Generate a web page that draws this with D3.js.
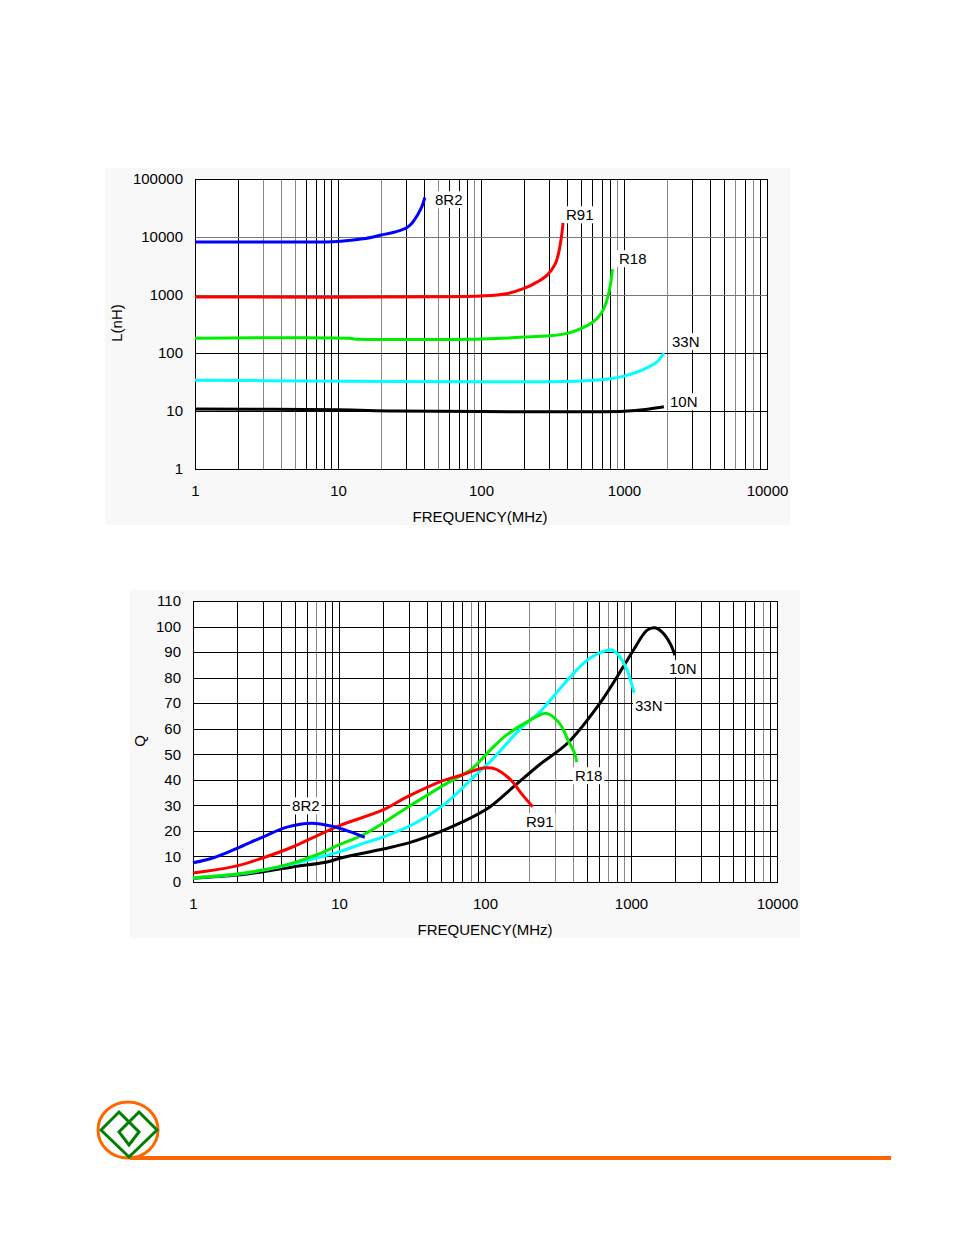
<!DOCTYPE html>
<meta charset="utf-8">
<style>
body { margin: 0; background: #fff; }
svg { display: block; font-family: "Liberation Sans", Arial, sans-serif; }
.tick text { font-size: 15px; fill: #000; }
.lbl { font-size: 15px; fill: #000; }
</style>
<svg width="954" height="1235"></svg>
<script src="https://d3js.org/d3.v7.min.js"></script>
<script>

// ---- data: inductance L(nH) vs frequency (MHz) ----
var freqTicks = [1, 10, 100, 1000, 10000];
var lTicks = [1, 10, 100, 1000, 10000, 100000];
var qTicks = [0, 10, 20, 30, 40, 50, 60, 70, 80, 90, 100, 110];

var L_8R2 = [[1, 8200], [5, 8200], [10, 8400], [15, 9300], [20, 10800], [25, 12200], [30, 14300], [33, 17500], [36, 24000], [38.5, 33000], [40.5, 48000]];
var L_R91 = [[1, 920], [50, 930], [100, 960], [150, 1050], [200, 1300], [250, 1700], [290, 2200], [330, 3400], [350, 5500], [365, 10000], [375, 17500]];
var L_R18 = [[1, 180], [12, 180], [13, 175], [100, 175], [200, 188], [400, 218], [600, 335], [700, 500], [770, 920], [810, 1700], [830, 2800]];
var L_33N = [[1, 34], [6, 33], [100, 32], [500, 33], [800, 36], [1000, 40], [1350, 51], [1700, 70], [1900, 100]];
var L_10N = [[1, 10.8], [10, 10.5], [25, 10], [100, 9.8], [1000, 9.9], [1500, 10.8], [1900, 11.8]];

// ---- data: Q vs frequency (MHz) ----
var Q_8R2 = [[1, 7.5], [1.4, 9.6], [2, 13.2], [3, 17.6], [4.4, 21.5], [6.5, 23], [9, 21.8], [12, 19.6], [15, 17.5]];
var Q_R91 = [[1, 3.5], [2, 6.3], [3, 9.4], [4.8, 13.7], [7, 18], [10, 22], [20, 28.2], [29, 33.2], [50, 39.4], [70, 42], [97, 44.6], [117, 44.3], [150, 40], [180, 34.2], [212, 29.5]];
var Q_R18 = [[1, 1.6], [2, 3.1], [3, 4.7], [4.8, 7.4], [7, 10.6], [10, 14.5], [15, 18.8], [29, 29], [55, 38.7], [82, 44.5], [108, 51.5], [140, 57.5], [193, 62.6], [265, 66], [325, 62], [370, 55.6], [410, 50.5], [425, 47]];
var Q_33N = [[1, 1.6], [2, 3], [3, 4.6], [4.8, 7], [7, 9.4], [10, 11.8], [15, 15.3], [20, 17.6], [32, 22.5], [50, 29.4], [65, 35], [82, 40.7], [108, 47], [180, 60.7], [237, 66.5], [380, 80], [525, 87.7], [740, 90.8], [840, 88], [940, 83], [1050, 74]];
var Q_10N = [[1, 1.5], [2, 2.7], [3, 4], [4.8, 5.9], [8.3, 7.8], [10, 9.2], [20, 12.9], [30, 15.3], [49, 19.6], [70, 23.5], [108, 29.4], [155, 37], [237, 46], [370, 54.5], [613, 70], [880, 84], [1040, 90.8], [1290, 98.6], [1460, 99.5], [1620, 98], [1850, 93.5], [2000, 88.8]];

var names = ["8R2", "R91", "R18", "33N", "10N"];
var colors = ["#0000ff", "#ff0000", "#00ee00", "#00ffff", "#000000"];

// label anchors (freq, value) for the curve names
var lLabelAt = [[47.7, 43400], [393, 23900], [922, 4180], [2167, 155], [2098, 14.3]];
var qLabelAt = [[4.77, 29.7], [191, 23.5], [413, 41.5], [1065, 68.9], [1820, 83.4]];

// some thin grid lines came out gray in the scan
var lGrayX = [3, 4, 5, 20, 50, 90, 900, 2000, 6000, 8000];
var lGrayY = [1000, 10000];
var qGrayX = [7, 80, 200, 300, 400, 700, 900, 8000];

var svg = d3.select("svg");

function minorFreqs() {
  var out = [];
  [1, 10, 100, 1000].forEach(function(d) {
    for (var k = 1; k <= 10; k++) out.push(d * k);
  });
  return out;
}

function drawChart(opt) {
  var x = d3.scaleLog().domain([1, 10000]).range(opt.xr);
  var y = opt.y;
  var g = svg.append("g");

  g.append("rect")
      .attr("x", opt.panel[0]).attr("y", opt.panel[1])
      .attr("width", opt.panel[2]).attr("height", opt.panel[3])
      .attr("fill", "#f8f8f8");
  g.append("rect")
      .attr("x", opt.xr[0]).attr("y", opt.yr[1])
      .attr("width", opt.xr[1] - opt.xr[0]).attr("height", opt.yr[0] - opt.yr[1])
      .attr("fill", "#fff");

  // vertical grid
  g.append("g").selectAll("line")
    .data(minorFreqs().filter(function(f) { return f > 1 && f < 10000; }))
    .enter().append("line")
      .attr("x1", function(d) { return Math.round(x(d)) + 0.5; })
      .attr("x2", function(d) { return Math.round(x(d)) + 0.5; })
      .attr("y1", opt.yr[0]).attr("y2", opt.yr[1])
      .attr("stroke", function(d) { return opt.grayX.indexOf(d) >= 0 ? "#888" : "#000"; })
      .attr("stroke-width", 1);

  // horizontal grid
  g.append("g").selectAll("line")
    .data(opt.yTicks.slice(1, -1))
    .enter().append("line")
      .attr("x1", opt.xr[0]).attr("x2", opt.xr[1])
      .attr("y1", function(d) { return Math.round(y(d)) + 0.5; })
      .attr("y2", function(d) { return Math.round(y(d)) + 0.5; })
      .attr("stroke", function(d) { return opt.grayY.indexOf(d) >= 0 ? "#777" : "#000"; })
      .attr("stroke-width", 1);

  g.append("rect")
      .attr("x", opt.xr[0] + 0.5).attr("y", opt.yr[1] + 0.5)
      .attr("width", opt.xr[1] - opt.xr[0]).attr("height", opt.yr[0] - opt.yr[1])
      .attr("fill", "none").attr("stroke", "#000").attr("stroke-width", 1);

  // axes (labels only)
  var xa = g.append("g")
      .attr("transform", "translate(0," + (opt.yr[0] + 13) + ")")
      .call(d3.axisBottom(x).tickValues(freqTicks).tickFormat(d3.format("d")).tickSize(0));
  xa.select(".domain").remove();
  xa.selectAll("text").attr("font-family", null).attr("font-size", null);

  var ya = g.append("g")
      .attr("transform", "translate(" + (opt.xr[0] - 9) + ",0)")
      .call(d3.axisLeft(y).tickValues(opt.yTicks).tickFormat(d3.format("d")).tickSize(0));
  ya.select(".domain").remove();
  ya.selectAll("text").attr("font-family", null).attr("font-size", null).attr("dx", "0");

  g.append("text").attr("class", "lbl")
      .attr("x", opt.xTitle[0]).attr("y", opt.xTitle[1])
      .attr("text-anchor", "middle").attr("dy", "0.35em")
      .text("FREQUENCY(MHz)");
  g.append("text").attr("class", "lbl")
      .attr("transform", "translate(" + opt.yTitle[0] + "," + opt.yTitle[1] + ") rotate(-90)")
      .attr("text-anchor", "middle").attr("dy", "0.35em")
      .text(opt.yLabel);

  // curves
  var line = d3.line()
      .x(function(d) { return x(d[0]); })
      .y(function(d) { return y(d[1]); })
      .curve(d3.curveCatmullRom.alpha(0.5));

  opt.order.forEach(function(i) {
    g.append("path")
        .attr("d", line(opt.series[i]))
        .attr("fill", "none")
        .attr("stroke", colors[i])
        .attr("stroke-width", 3)
        .attr("stroke-linejoin", "round");
  });

  // curve names on white boxes
  names.forEach(function(n, i) {
    var px = x(opt.labels[i][0]), py = y(opt.labels[i][1]);
    var t = g.append("text").attr("class", "lbl")
        .attr("x", px).attr("y", py).attr("dy", "0.35em")
        .text(n);
    var b = t.node().getBBox();
    g.insert("rect", function() { return t.node(); })
        .attr("x", b.x - 2).attr("y", b.y)
        .attr("width", b.width + 4).attr("height", b.height)
        .attr("fill", "#fff");
  });
}

drawChart({
  xr: [195, 767], yr: [469, 179],
  y: d3.scaleLog().domain([1, 100000]).range([469, 179]),
  yTicks: lTicks,
  grayX: lGrayX, grayY: lGrayY,
  panel: [105, 168, 685, 357],
  xTitle: [480, 517], yTitle: [117, 323], yLabel: "L(nH)",
  series: [L_8R2, L_R91, L_R18, L_33N, L_10N],
  order: [4, 3, 2, 1, 0],
  labels: lLabelAt
});

drawChart({
  xr: [193, 777], yr: [882, 601],
  y: d3.scaleLinear().domain([0, 110]).range([882, 601]),
  yTicks: qTicks,
  grayX: qGrayX, grayY: [],
  panel: [130, 590, 670, 348],
  xTitle: [485, 930], yTitle: [140, 741], yLabel: "Q",
  series: [Q_8R2, Q_R91, Q_R18, Q_33N, Q_10N],
  order: [4, 3, 2, 1, 0],
  labels: qLabelAt
});

// footer logo and rule
var logo = svg.append("g");
logo.append("line")
    .attr("x1", 130).attr("x2", 891).attr("y1", 1158).attr("y2", 1158)
    .attr("stroke", "#ff6600").attr("stroke-width", 4);
logo.append("ellipse")
    .attr("cx", 128).attr("cy", 1130).attr("rx", 30).attr("ry", 28)
    .attr("fill", "none").attr("stroke", "#ff6600").attr("stroke-width", 3);
logo.append("path")
    .attr("d", "M101,1130 L119,1112 L139,1132 L129,1145 L119,1132 L139,1112 L157,1130 L129,1157 Z")
    .attr("fill", "none").attr("stroke", "#008000").attr("stroke-width", 3)
    .attr("stroke-linejoin", "miter");

</script>
